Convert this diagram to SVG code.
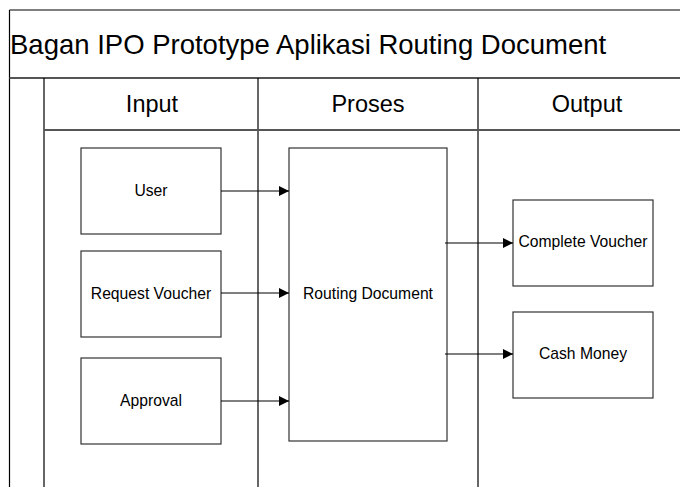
<svg xmlns="http://www.w3.org/2000/svg" width="680" height="487" viewBox="0 0 680 487">
<style>
text{font-family:"Liberation Sans",Arial,sans-serif;fill:#000}
.frame{stroke:#000;stroke-width:1.2;fill:none}
.band{stroke:#555;stroke-width:2;fill:none}
.box{fill:#fff;stroke:#333;stroke-width:1.2}
.lbl{font-size:15.7px;text-anchor:middle}
.hdr{font-size:23.5px;text-anchor:middle}
.conn{stroke:#000;stroke-width:1.2;fill:none;marker-end:url(#arr)}
</style>
<defs>
<marker id="arr" markerWidth="10" markerHeight="10" refX="10" refY="5" orient="auto" markerUnits="userSpaceOnUse">
<path d="M0,0 L10,5 L0,10 Z" fill="#000"/>
</marker>
</defs>
<rect width="680" height="487" fill="#fff"/>
<g id="frame">
<line class="frame" x1="9.5" y1="10" x2="680" y2="10"/>
<line class="frame" x1="9.5" y1="10" x2="9.5" y2="487"/>
<line class="band" x1="9.5" y1="78" x2="680" y2="78"/>
<line class="frame" x1="44" y1="78" x2="44" y2="487"/>
<line class="frame" x1="258" y1="78" x2="258" y2="487"/>
<line class="frame" x1="478" y1="78" x2="478" y2="487"/>
<line class="band" x1="44" y1="130" x2="680" y2="130"/>
<text x="10" y="54" font-size="27.5">Bagan IPO Prototype Aplikasi Routing Document</text>
<text class="hdr" x="152" y="112">Input</text>
<text class="hdr" x="368" y="112">Proses</text>
<text class="hdr" x="587" y="112">Output</text>
</g>
<g id="user"><rect class="box" x="81" y="148" width="140" height="86"/><text class="lbl" x="151" y="196">User</text></g>
<g id="request"><rect class="box" x="81" y="251" width="140" height="86"/><text class="lbl" x="151" y="299">Request Voucher</text></g>
<g id="approval"><rect class="box" x="81" y="358" width="140" height="86"/><text class="lbl" x="151" y="406">Approval</text></g>
<g id="routing"><rect class="box" x="289" y="148" width="158" height="293"/><text class="lbl" x="368" y="299">Routing Document</text></g>
<g id="complete"><rect class="box" x="513" y="200" width="140" height="86"/><text class="lbl" x="583" y="247">Complete Voucher</text></g>
<g id="cash"><rect class="box" x="513" y="312" width="140" height="86"/><text class="lbl" x="583" y="359">Cash Money</text></g>
<g id="connectors">
<line class="conn" x1="221" y1="191" x2="289" y2="191"/>
<line class="conn" x1="221" y1="293" x2="289" y2="293"/>
<line class="conn" x1="221" y1="401" x2="289" y2="401"/>
<line class="conn" x1="445" y1="243" x2="513" y2="243"/>
<line class="conn" x1="445" y1="354" x2="513" y2="354"/>
</g>
</svg>
